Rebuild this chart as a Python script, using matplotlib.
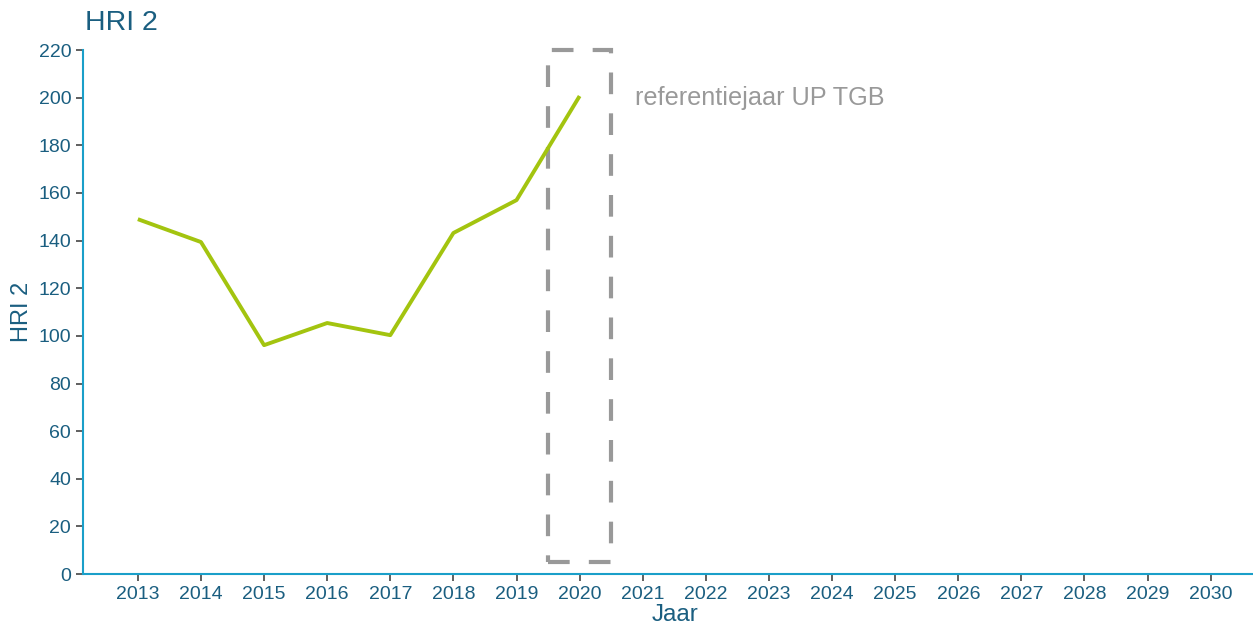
import matplotlib
matplotlib.use("Agg")
import matplotlib.pyplot as plt
from matplotlib.patches import Rectangle

plt.rcParams['font.family'] = ['Liberation Sans', 'DejaVu Sans']

years = [2013, 2014, 2015, 2016, 2017, 2018, 2019, 2020]
hri2 = [149, 139.4, 96.1, 105.4, 100.3, 143.2, 157, 200.7]
all_years = list(range(2013, 2031))
ref_year = 2020
ref_label = "referentiejaar UP TGB"

text_col = "#1a5e80"
spine_col = "#1a9fc9"
line_col = "#a3c40f"
ref_col = "#999999"

fig = plt.figure(figsize=(12.53, 6.26), dpi=100)
ax = fig.add_axes([0.0662, 0.083, 0.9338, 0.837])

ax.plot(years, hri2, color=line_col, lw=2.8, solid_capstyle="butt")

# dashed box round the reference year
rect = Rectangle((ref_year - 0.5, 5), 1.0, 215, fill=False, ec=ref_col,
                 lw=3, ls=(0, (5.2, 4.6)), clip_on=False)
ax.add_patch(rect)
ax.text(ref_year + 0.88, 200, ref_label, color=ref_col, fontsize=18.2,
        va="center", ha="left")

ax.set_xlim(2012.13, 2030.67)
ax.set_ylim(0, 220)
ax.set_xticks(all_years)
ax.set_yticks(range(0, 221, 20))

for s in ["top", "right"]:
    ax.spines[s].set_visible(False)
for s in ["left", "bottom"]:
    ax.spines[s].set_color(spine_col)
    ax.spines[s].set_linewidth(1.5)

ax.tick_params(axis="both", colors="#444444", labelcolor=text_col,
               labelsize=14, length=5, width=1.2)
ax.set_xlabel("Jaar", color=text_col, fontsize=17.5, labelpad=1)
ax.xaxis.set_label_coords(0.506, -0.058)
ax.set_ylabel("HRI 2", color=text_col, fontsize=17, labelpad=4)
fig.text(0.068, 0.963, "HRI 2", color=text_col, fontsize=20.5, va="center", ha="left")

fig.savefig("out.png", dpi=100)
